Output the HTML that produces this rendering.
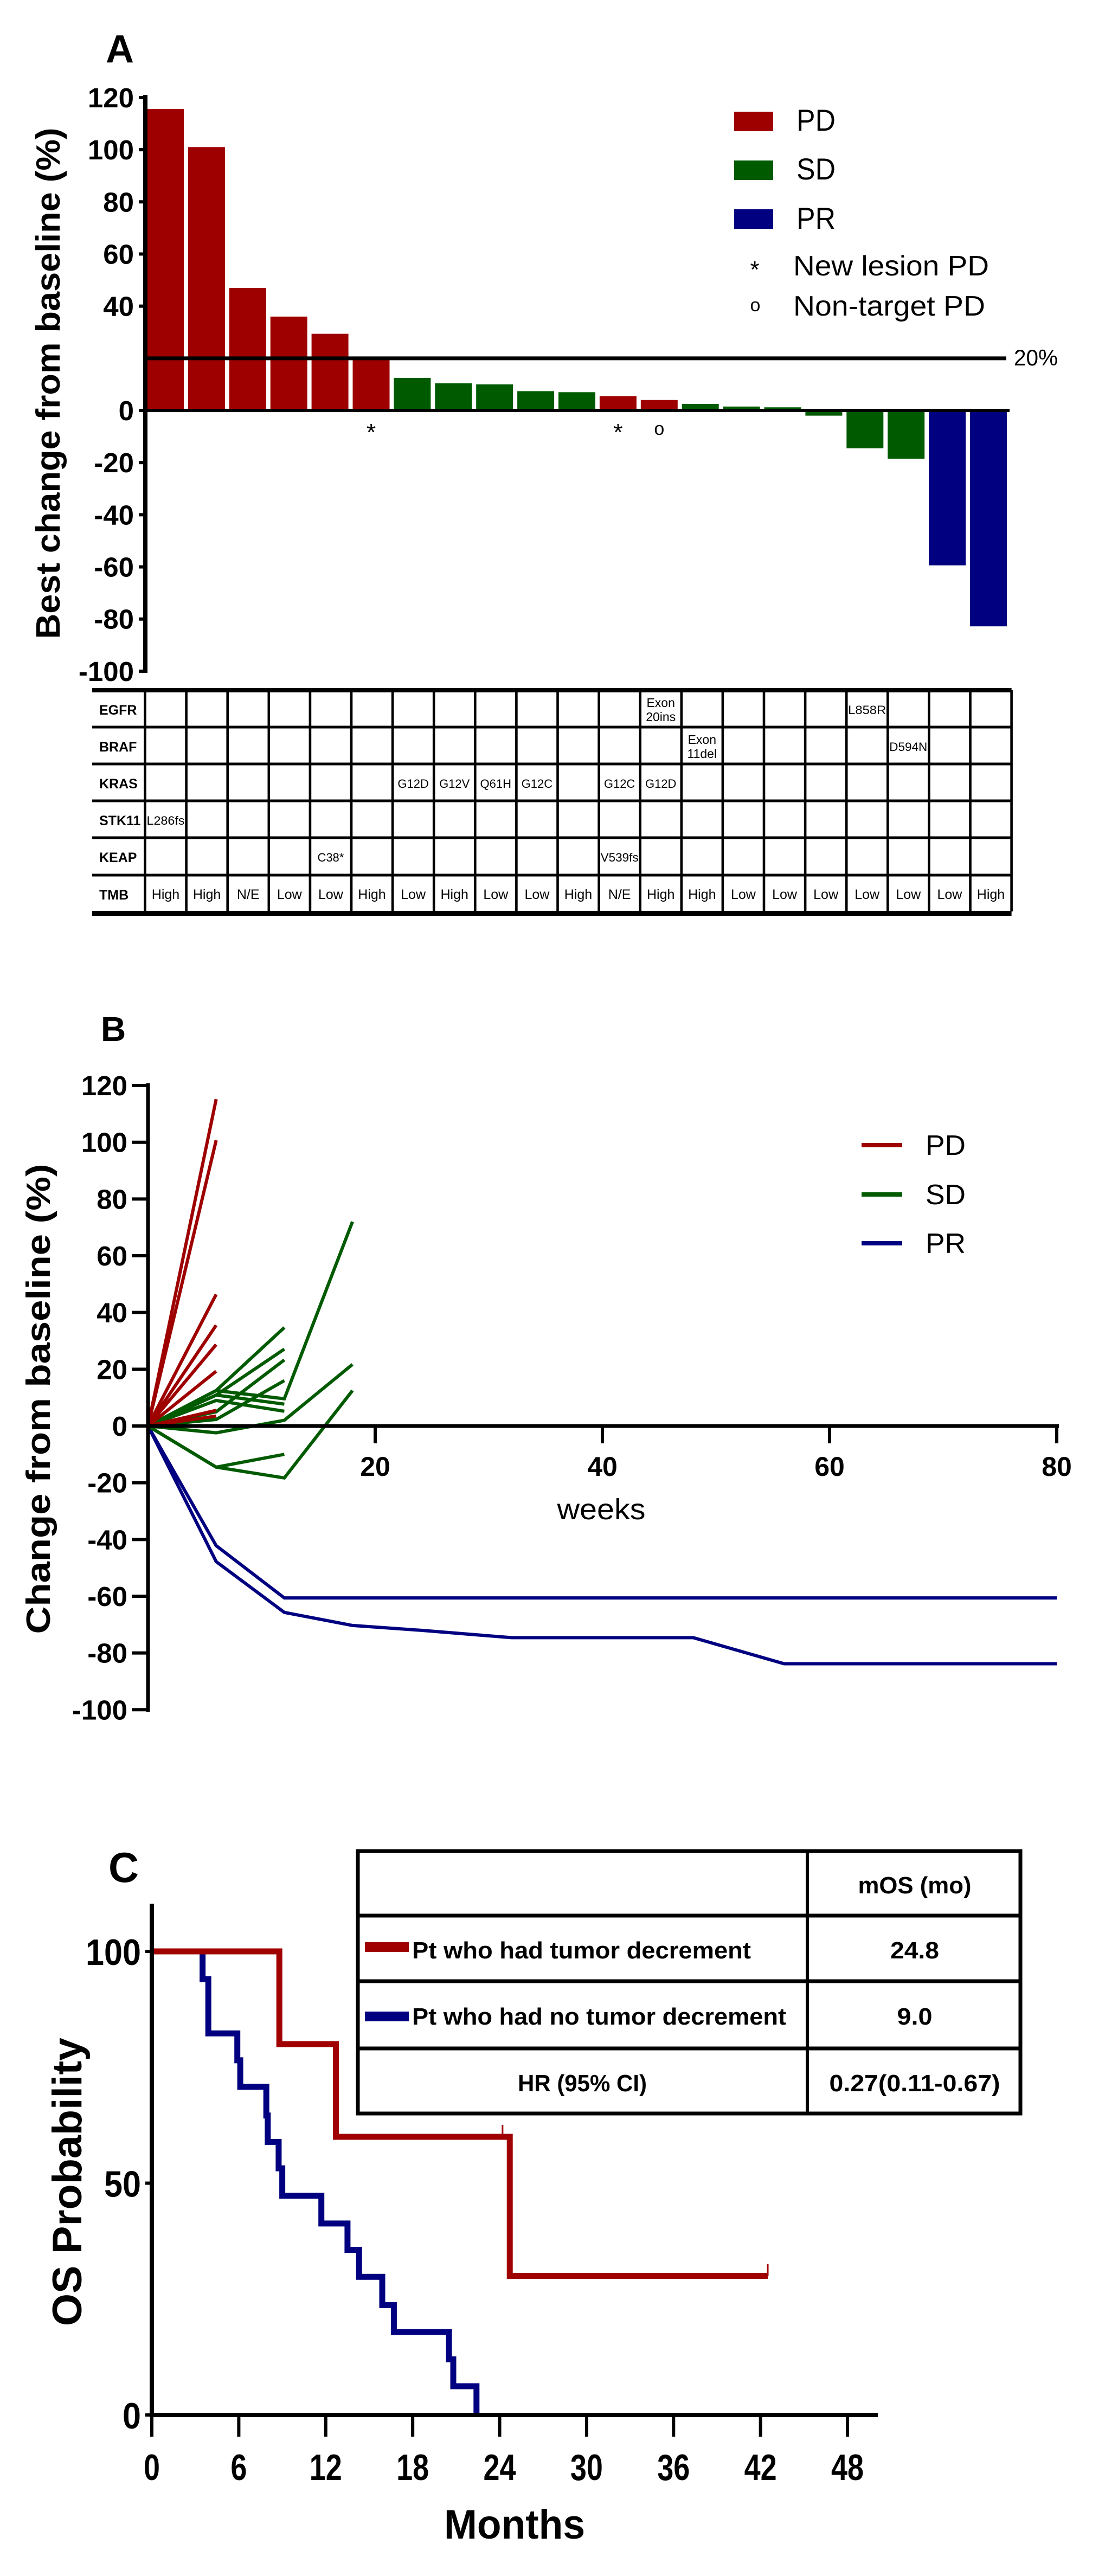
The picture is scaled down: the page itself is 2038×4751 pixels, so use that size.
<!DOCTYPE html>
<html><head><meta charset="utf-8"><style>
html,body{margin:0;padding:0;background:#fff;}
svg{display:block;font-family:"Liberation Sans",Arial,sans-serif;}
</style></head><body>
<svg id="fig" xmlns="http://www.w3.org/2000/svg" width="2038" height="4751" viewBox="0 0 2038 4751">
<rect width="2038" height="4751" fill="#fff"/>
<g id="pa"></g>
<g id="pb"></g>
<g id="pc"></g>
</svg>
<script>
// ---------- Panel A data ----------
const aValues=[115.6,101,47,36,29.4,20.5,12.5,10.4,10,7.4,7,5.5,4,2.5,1.5,1.2,-2,-14.5,-18.5,-59.4,-82.8];
const aGroups=["PD","PD","PD","PD","PD","PD","SD","SD","SD","SD","SD","PD","PD","SD","SD","SD","SD","SD","SD","PR","PR"];
const aMarks=["","","","","","*","","","","","","*","o","","","","","","","",""];
const aTicks=[120,100,80,60,40,0,-20,-40,-60,-80,-100];
const tableRows=["EGFR","BRAF","KRAS","STK11","KEAP","TMB"];
const egfr=["","","","","","","","","","","","","Exon|20ins","","","","","L858R","","",""];
const braf=["","","","","","","","","","","","","","Exon|11del","","","","","D594N","",""];
const kras=["","","","","","","G12D","G12V","Q61H","G12C","","G12C","G12D","","","","","","","",""];
const stk11=["L286fs","","","","","","","","","","","","","","","","","","","",""];
const keap=["","","","","C38*","","","","","","","V539fs","","","","","","","","",""];
const tmb=["High","High","N/E","Low","Low","High","Low","High","Low","Low","High","N/E","High","High","Low","Low","Low","Low","Low","Low","High"];
// ---------- Panel B data ----------
const bTicksY=[120,100,80,60,40,20,0,-20,-40,-60,-80,-100];
const bTicksX=[20,40,60,80];
const pdWeeks=[0,6];
const pdSeries=[[0,115.2],[0,100.7],[0,46.4],[0,35.5],[0,28.7],[0,19.3],[0,5.5],[0,3.5]];
const sdWeeks=[0,6,12,18];
const sdSeries=[[0,12.5,34.7],[0,12.5,9.6,72],[0,10.9,27.1],[0,5,23.3],[0,2.3,16],[0,10.9,7.7],[0,9,5.2],[0,-2.4,2,21.7],[0,-14.5,-10],[0,-14.5,-18.3,12.5]];
const prWeeks=[0,6,12,18,24,32,48,56,80];
const prSeries=[[0,-47.8,-65.7,-70.3,-72,-74.6,-74.6,-83.8,-83.8],[0,-42.2,-60.6,-60.6,-60.6,-60.6,-60.6,-60.6,-60.6]];
// ---------- Panel C data ----------
const cTicksX=[0,6,12,18,24,30,36,42,48];
const cTicksY=[100,50,0];
const redTimes=[0,8.8,12.7,24.7,42.5];
const redSurv=[100,80,60,30,30];
const redCensor=[[24.2,60],[42.5,30]];
const blueTimes=[0,3.5,3.9,5.9,6.1,7.9,8.0,8.75,9.0,11.7,13.5,14.3,15.9,16.7,20.5,20.8,22.4];
const blueSurv=[100,94,82.3,76.5,70.8,64.6,58.9,53.2,47.3,41.3,35.6,29.8,23.7,17.9,12,6.2,0];

const NS="http://www.w3.org/2000/svg";
function mk(parent,tag,attrs,text){const e=document.createElementNS(NS,tag);for(const k in attrs)e.setAttribute(k,attrs[k]);if(text!==undefined)e.textContent=text;parent.appendChild(e);return e;}
const COL={PD:"#9e0000",SD:"#005a00",PR:"#000080"};

// ===== Panel A =====
const A=document.getElementById('pa');
const ay=v=>757-v*4.809;
const ax=i=>305+i*75.9;
let t=mk(A,'text',{x:195,y:115,'font-size':72,'font-weight':'bold'},'A');

aValues.forEach((v,i)=>{
  const r=mk(A,'rect',{x:ax(i)-34,y:Math.min(ay(v),ay(0)),width:68,height:Math.abs(ay(v)-ay(0)),fill:COL[aGroups[i]]});
  
  
  if(aMarks[i]){
    const m=mk(A,'text',{x:ax(i),y:aMarks[i]=='*'?812:802,'font-size':aMarks[i]=='*'?44:34,'text-anchor':'middle'},aMarks[i]=='o'?'o':'*');
    
    
  }
});
mk(A,'line',{x1:268,y1:175,x2:268,y2:1241,stroke:'#000','stroke-width':8});
aTicks.forEach(v=>{
  mk(A,'line',{x1:256,y1:ay(v),x2:268,y2:ay(v),stroke:'#000','stroke-width':6});
  const l=mk(A,'text',{x:247,y:ay(v)+18,'font-size':51,'font-weight':'bold','text-anchor':'end'},String(v));
  
  
});
let zl=mk(A,'line',{x1:264,y1:ay(0),x2:1862,y2:ay(0),stroke:'#000','stroke-width':6});

let tl=mk(A,'line',{x1:264,y1:ay(20),x2:1856,y2:ay(20),stroke:'#000','stroke-width':7});

mk(A,'text',{x:1870,y:674,'font-size':42,textLength:81,lengthAdjust:'spacingAndGlyphs'},'20%');
t=mk(A,'text',{transform:'translate(110,707) rotate(-90)','font-size':62,'font-weight':'bold','text-anchor':'middle',textLength:943,lengthAdjust:'spacingAndGlyphs'},'Best change from baseline (%)');

[["PD",206,241],["SD",296,331],["PR",386,422]].forEach(([n,y0,b])=>{
  const g=mk(A,'g',{});
  
  
  mk(g,'rect',{x:1354,y:y0,width:72,height:36,fill:COL[n]});
  mk(g,'text',{x:1469,y:b,'font-size':56,textLength:72,lengthAdjust:'spacingAndGlyphs'},n);
});
let g1=mk(A,'g',{});
mk(g1,'text',{x:1392,y:512,'font-size':44,'text-anchor':'middle'},'*');
mk(g1,'text',{x:1463,y:508,'font-size':52,textLength:361,lengthAdjust:'spacingAndGlyphs'},'New lesion PD');
let g2=mk(A,'g',{});
mk(g2,'text',{x:1393,y:574,'font-size':34,'text-anchor':'middle'},'o');
mk(g2,'text',{x:1463,y:582,'font-size':52,textLength:354,lengthAdjust:'spacingAndGlyphs'},'Non-target PD');

// Table
const T=mk(A,'g',{});


const rowTop=[1273,1341,1409,1477,1545,1614];
const rowH=68;
const colX=i=>267.5+i*76.1;
const tRight=colX(21);
mk(T,'rect',{x:170,y:1269,width:tRight-170,height:8,fill:'#000'});
mk(T,'rect',{x:170,y:1680,width:tRight-170,height:9,fill:'#000'});
for(let r=1;r<6;r++) mk(T,'rect',{x:170,y:rowTop[r]-2.5,width:tRight-170,height:5,fill:'#000'});
for(let c=0;c<=21;c++) mk(T,'rect',{x:colX(c)-2.3,y:1273,width:4.6,height:408,fill:'#000'});
const rowData=[egfr,braf,kras,stk11,keap,tmb];
tableRows.forEach((name,r)=>{
  const cy=rowTop[r]+rowH/2+2;
  const l=mk(T,'text',{x:183,y:cy+9,'font-size':25,'font-weight':'bold'},name);
  
  
  rowData[r].forEach((s,c)=>{
    if(!s)return;
    const cx=colX(c)+38;
    const parts=s.split('|');
    if(parts.length==2){
      mk(T,'text',{x:cx,y:cy-5,'font-size':23,'text-anchor':'middle'},parts[0]);
      mk(T,'text',{x:cx,y:cy+21,'font-size':23,'text-anchor':'middle'},parts[1]);
    } else {
      const fs=r==5?25:22;
      const w=s.length>=5?70:null;
      const at={x:cx,y:cy+8,'font-size':fs,'text-anchor':'middle'};
      if(w){at.textLength=w;at.lengthAdjust='spacingAndGlyphs';}
      mk(T,'text',at,s);
    }
  });
});

// ===== Panel B =====
const B=document.getElementById('pb');
const by=v=>2630-v*5.233;
const bx=w=>273+w*20.95;
t=mk(B,'text',{x:186,y:1920,'font-size':64,'font-weight':'bold'},'B');

function series(parent,weeks,vals,color,name){
  const d=vals.map((v,i)=>(i?'L':'M')+bx(weeks[i]).toFixed(1)+' '+by(v).toFixed(1)).join(' ');
  const p=mk(parent,'path',{d:d,fill:'none',stroke:color,'stroke-width':6,'stroke-linejoin':'miter'});
  
  
}
prSeries.forEach((s,i)=>series(B,prWeeks,s,COL.PR,'pr-line-'+(i+1)));
sdSeries.forEach((s,i)=>series(B,sdWeeks,s,COL.SD,'sd-line-'+(i+1)));
pdSeries.forEach((s,i)=>series(B,pdWeeks,s,COL.PD,'pd-line-'+(i+1)));
mk(B,'line',{x1:273,y1:1998,x2:273,y2:3157,stroke:'#000','stroke-width':7});
bTicksY.forEach(v=>{
  mk(B,'line',{x1:243,y1:by(v),x2:273,y2:by(v),stroke:'#000','stroke-width':6});
  const l=mk(B,'text',{x:235,y:by(v)+18,'font-size':51,'font-weight':'bold','text-anchor':'end'},String(v));
  
  
});
mk(B,'line',{x1:270,y1:by(0),x2:1953,y2:by(0),stroke:'#000','stroke-width':7});
bTicksX.forEach(w=>{
  mk(B,'line',{x1:bx(w),y1:by(0),x2:bx(w),y2:2662,stroke:'#000','stroke-width':6});
  const l=mk(B,'text',{x:bx(w),y:2722,'font-size':50,'font-weight':'bold','text-anchor':'middle'},String(w));
  
  
});
t=mk(B,'text',{x:1109,y:2802,'font-size':54,'text-anchor':'middle',textLength:163,lengthAdjust:'spacingAndGlyphs'},'weeks');

t=mk(B,'text',{transform:'translate(92,2580) rotate(-90)','font-size':62,'font-weight':'bold','text-anchor':'middle',textLength:867,lengthAdjust:'spacingAndGlyphs'},'Change from baseline (%)');

[["PD",2112],["SD",2203],["PR",2293]].forEach(([n,y])=>{
  const g=mk(B,'g',{});
  
  
  mk(g,'line',{x1:1589,y1:y,x2:1664,y2:y,stroke:COL[n],'stroke-width':8});
  mk(g,'text',{x:1707,y:y+18,'font-size':52,textLength:74,lengthAdjust:'spacingAndGlyphs'},n);
});

// ===== Panel C =====
const C=document.getElementById('pc');
const cx=m=>280+m*26.73;
const cy=s=>4454-s*8.55;
t=mk(C,'text',{x:200,y:3471,'font-size':78,'font-weight':'bold',textLength:56,lengthAdjust:'spacingAndGlyphs'},'C');

function km(times,surv,color,name,endT){
  let d='M'+cx(times[0])+' '+cy(surv[0]);
  for(let i=1;i<times.length;i++){d+=' H'+cx(times[i]).toFixed(1)+' V'+cy(surv[i]).toFixed(1);}
  if(endT!==undefined)d+=' H'+cx(endT).toFixed(1);
  const p=mk(C,'path',{d:d,fill:'none',stroke:color,'stroke-width':11,'stroke-linejoin':'miter'});
  
  
}
km(blueTimes,blueSurv,'#000080','km-curve-no-decrement');
km(redTimes,redSurv,'#a00000','km-curve-decrement');
redCensor.forEach(([m,s])=>{
  const c=mk(C,'line',{x1:cx(m),y1:cy(s)-22,x2:cx(m),y2:cy(s),stroke:'#a00000','stroke-width':3});
  
  
});
mk(C,'line',{x1:280,y1:3511,x2:280,y2:4458,stroke:'#000','stroke-width':8});
mk(C,'line',{x1:276,y1:4454,x2:1619,y2:4454,stroke:'#000','stroke-width':8});
cTicksX.forEach(m=>{
  mk(C,'line',{x1:cx(m),y1:4454,x2:cx(m),y2:4494,stroke:'#000','stroke-width':6});
  const l=mk(C,'text',{x:cx(m),y:4574,'font-size':68,'font-weight':'bold','text-anchor':'middle',textLength:String(m).length*30,lengthAdjust:'spacingAndGlyphs'},String(m));
  
  
});
cTicksY.forEach(s=>{
  mk(C,'line',{x1:268,y1:cy(s),x2:280,y2:cy(s),stroke:'#000','stroke-width':6});
  const l=mk(C,'text',{x:260,y:cy(s)+25,'font-size':68,'font-weight':'bold','text-anchor':'end',textLength:String(s).length*34,lengthAdjust:'spacingAndGlyphs'},String(s));
  
  
});
t=mk(C,'text',{x:949,y:4682,'font-size':76,'font-weight':'bold','text-anchor':'middle',textLength:260,lengthAdjust:'spacingAndGlyphs'},'Months');

t=mk(C,'text',{transform:'translate(150,4024) rotate(-90)','font-size':76,'font-weight':'bold','text-anchor':'middle',textLength:532,lengthAdjust:'spacingAndGlyphs'},'OS Probability');

// inset table
const I=mk(C,'g',{});


mk(I,'rect',{x:660,y:3414,width:1222,height:484,fill:'#fff',stroke:'#000','stroke-width':7});
mk(I,'line',{x1:1489,y1:3414,x2:1489,y2:3898,stroke:'#000','stroke-width':6});
[3533,3654,3778].forEach(y=>mk(I,'line',{x1:660,y1:y,x2:1882,y2:y,stroke:'#000','stroke-width':7}));
const tf={'font-size':44,'font-weight':'bold',lengthAdjust:'spacingAndGlyphs'};
function tt(x,y,w,s,anchor){const o=Object.assign({x:x,y:y,textLength:w},tf);if(anchor)o['text-anchor']=anchor;return mk(I,'text',o,s);}
tt(1687,3492,209,'mOS (mo)','middle');
mk(I,'rect',{x:673,y:3582,width:81,height:18,fill:'#a00000'});
tt(760,3612,625,'Pt who had tumor decrement');
tt(1687,3612,90,'24.8','middle');
mk(I,'rect',{x:673,y:3710,width:81,height:18,fill:'#000080'});
tt(760,3734,690,'Pt who had no tumor decrement');
tt(1687,3734,65,'9.0','middle');
tt(1074,3857,238,'HR (95% CI)','middle');
tt(1687,3857,315,'0.27(0.11-0.67)','middle');
</script>
</body></html>
